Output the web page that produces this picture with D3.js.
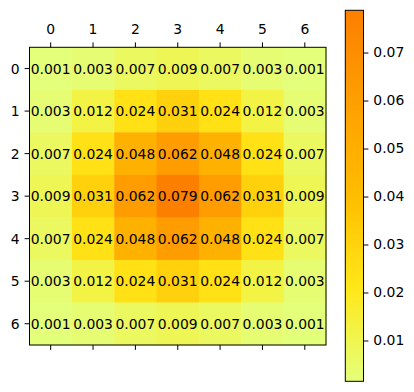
<!DOCTYPE html>
<html>
<head>
  <meta charset="utf-8">
  <script src="https://d3js.org/d3.v7.min.js"></script>
  <style>
    body { margin: 0; background: #fff; }
    text { font-family: "DejaVu Sans", sans-serif; }
  </style>
</head>
<body>
<div id="chart"></div>
<script>
  // values
  const rows = [0, 1, 2, 3, 4, 5, 6];
  const cols = [0, 1, 2, 3, 4, 5, 6];
  const values = [
    [0.001, 0.003, 0.007, 0.009, 0.007, 0.003, 0.001],
    [0.003, 0.012, 0.024, 0.031, 0.024, 0.012, 0.003],
    [0.007, 0.024, 0.048, 0.062, 0.048, 0.024, 0.007],
    [0.009, 0.031, 0.062, 0.079, 0.062, 0.031, 0.009],
    [0.007, 0.024, 0.048, 0.062, 0.048, 0.024, 0.007],
    [0.003, 0.012, 0.024, 0.031, 0.024, 0.012, 0.003],
    [0.001, 0.003, 0.007, 0.009, 0.007, 0.003, 0.001]
  ];
  const colorLimits = [0.0015, 0.0788];
  const colorTicks = [0.01, 0.02, 0.03, 0.04, 0.05, 0.06, 0.07];
  // Wistia
  const wistia = ["#e4ff7a", "#ffe81a", "#ffbd00", "#ffa000", "#fc7f00"];

  const width = 414, height = 392;
  const box = {left: 29.5, right: 326, top: 47.3, bottom: 345};
  const bar = {left: 345.3, right: 363.5, top: 10.3, bottom: 381.3};
  const fs = "13.9px";
  const tick = 4.9, pad = 4.9;

  const svg = d3.select("#chart").append("svg")
    .attr("width", width)
    .attr("height", height);

  const x = d3.scaleBand().domain(cols).range([box.left, box.right]);
  const y = d3.scaleBand().domain(rows).range([box.top, box.bottom]);

  const stops = d3.range(wistia.length).map(function(i) {
    return colorLimits[0] + (colorLimits[1] - colorLimits[0]) * i / (wistia.length - 1);
  });
  const color = d3.scaleLinear().domain(stops).range(wistia).clamp(true);

  const cells = [];
  values.forEach(function(r, i) {
    r.forEach(function(v, j) { cells.push({row: rows[i], col: cols[j], v: v}); });
  });

  svg.append("g").selectAll("rect")
    .data(cells)
    .enter().append("rect")
    .attr("x", d => x(d.col))
    .attr("y", d => y(d.row))
    .attr("width", x.bandwidth() + 0.5)
    .attr("height", y.bandwidth() + 0.5)
    .attr("fill", d => color(d.v));

  svg.append("g").selectAll("text")
    .data(cells)
    .enter().append("text")
    .attr("x", d => x(d.col) + x.bandwidth() / 2)
    .attr("y", d => y(d.row) + y.bandwidth() / 2)
    .attr("text-anchor", "middle")
    .attr("dominant-baseline", "central")
    .style("font-size", fs)
    .attr("fill", "#000")
    .text(d => d.v.toFixed(3));

  svg.append("rect")
    .attr("x", box.left).attr("y", box.top)
    .attr("width", box.right - box.left).attr("height", box.bottom - box.top)
    .attr("fill", "none").attr("stroke", "#000").attr("stroke-width", 1);

  const xc = d => x(d) + x.bandwidth() / 2;
  const yc = d => y(d) + y.bandwidth() / 2;

  // top ticks with labels, bottom ticks bare
  const topAxis = svg.append("g");
  cols.forEach(function(c) {
    topAxis.append("line").attr("x1", xc(c)).attr("x2", xc(c))
      .attr("y1", box.top).attr("y2", box.top - tick).attr("stroke", "#000");
    topAxis.append("text").attr("x", xc(c)).attr("y", box.top - tick - pad - 3.2)
      .attr("text-anchor", "middle").style("font-size", fs).text(c);
    topAxis.append("line").attr("x1", xc(c)).attr("x2", xc(c))
      .attr("y1", box.bottom).attr("y2", box.bottom + tick).attr("stroke", "#000");
  });
  const leftAxis = svg.append("g");
  rows.forEach(function(r) {
    leftAxis.append("line").attr("x1", box.left).attr("x2", box.left - tick)
      .attr("y1", yc(r)).attr("y2", yc(r)).attr("stroke", "#000");
    leftAxis.append("text").attr("x", box.left - tick - pad).attr("y", yc(r))
      .attr("text-anchor", "end").attr("dominant-baseline", "central")
      .style("font-size", fs).text(r);
  });

  // colorbar
  const cy = d3.scaleLinear().domain(colorLimits).range([bar.bottom, bar.top]);
  const defs = svg.append("defs");
  const grad = defs.append("linearGradient").attr("id", "cbar")
    .attr("x1", 0).attr("y1", 1).attr("x2", 0).attr("y2", 0);
  wistia.forEach(function(c, i) {
    grad.append("stop").attr("offset", i / (wistia.length - 1)).attr("stop-color", c);
  });
  svg.append("rect")
    .attr("x", bar.left).attr("y", bar.top)
    .attr("width", bar.right - bar.left).attr("height", bar.bottom - bar.top)
    .attr("fill", "url(#cbar)").attr("stroke", "#000").attr("stroke-width", 1);

  const cax = svg.append("g")
    .attr("transform", "translate(" + bar.right + ",0)")
    .call(d3.axisRight(cy).tickValues(colorTicks).tickSize(tick).tickPadding(pad)
      .tickFormat(d3.format(".2f")));
  cax.select(".domain").remove();
  cax.selectAll("text").style("font-size", fs).attr("font-family", "DejaVu Sans");
</script>
</body>
</html>
